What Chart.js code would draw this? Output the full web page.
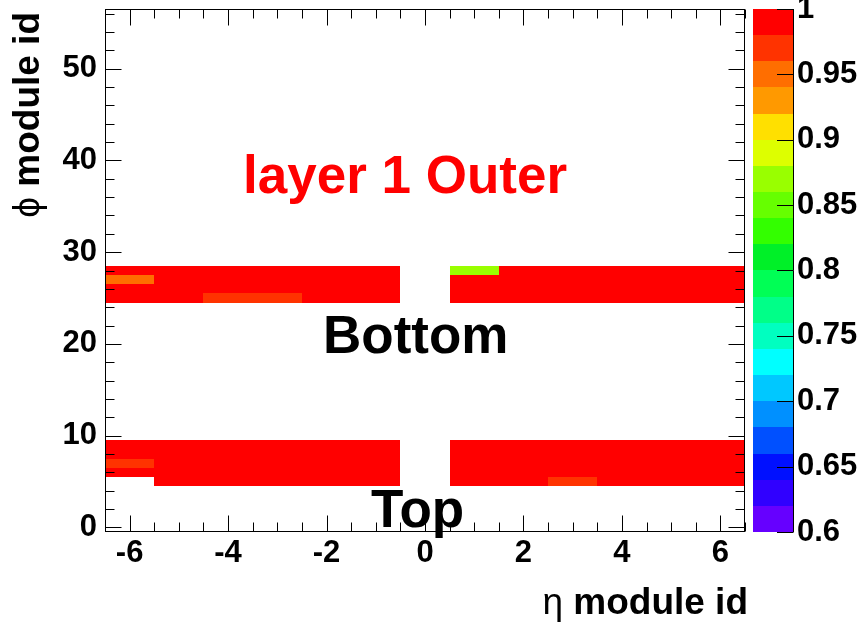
<!DOCTYPE html>
<html><head><meta charset="utf-8">
<script src="https://cdn.jsdelivr.net/npm/chart.js@4.4.1/dist/chart.umd.min.js"></script>
<style>html,body{margin:0;padding:0;background:#fff;}canvas{display:block;}</style>
</head><body>
<canvas id="c" width="863" height="631"></canvas>
<script>
// ---- data ----
const etaBins = [-6, -5, -4, -3, -2, -1, 1, 2, 3, 4, 5, 6];
const phiRows = [5, 6, 7, 8, 9, 25, 26, 27, 28];
const effPhi5  = [null, 1, 1, 1, 1, 1, 1, 1, 0.97, 1, 1, 1];
const effPhi6  = [1, 1, 1, 1, 1, 1, 1, 1, 1, 1, 1, 1];
const effPhi7  = [0.97, 1, 1, 1, 1, 1, 1, 1, 1, 1, 1, 1];
const effPhi8  = [1, 1, 1, 1, 1, 1, 1, 1, 1, 1, 1, 1];
const effPhi9  = [1, 1, 1, 1, 1, 1, 1, 1, 1, 1, 1, 1];
const effPhi25 = [1, 1, 0.97, 0.97, 1, 1, 1, 1, 1, 1, 1, 1];
const effPhi26 = [1, 1, 1, 1, 1, 1, 1, 1, 1, 1, 1, 1];
const effPhi27 = [0.955, 1, 1, 1, 1, 1, 1, 1, 1, 1, 1, 1];
const effPhi28 = [1, 1, 1, 1, 1, 1, 0.87, 1, 1, 1, 1, 1];
const effRows = [effPhi5, effPhi6, effPhi7, effPhi8, effPhi9, effPhi25, effPhi26, effPhi27, effPhi28];

const xTickValues = [-6, -4, -2, 0, 2, 4, 6];
const yTickValues = [0, 10, 20, 30, 40, 50];
const zTickValues = [0.6, 0.65, 0.7, 0.75, 0.8, 0.85, 0.9, 0.95, 1];
const zTickLabels = ['0.6', '0.65', '0.7', '0.75', '0.8', '0.85', '0.9', '0.95', '1'];
// palette: 20 contour bands from 0.60 to 1.00 (bottom to top)
const paletteColors = ['#6600ff', '#3000ff', '#0010ff', '#0050ff', '#0090ff', '#00c8ff', '#00ffff', '#00ffc0',
  '#00ff88', '#00ff55', '#00f028', '#33ff00', '#66ff00', '#99ff00', '#ddff00', '#ffe000',
  '#ff9900', '#ff6e00', '#ff3300', '#ff0000'];
const zMin = 0.6, zMax = 1.0;

const FONT = "'Liberation Sans', Arial, Helvetica, sans-serif";

function colorFor(v) {
  const n = paletteColors.length;
  let i = Math.floor((v - zMin) / (zMax - zMin) * n + 1e-9);
  if (i < 0) i = 0; if (i > n - 1) i = n - 1;
  return paletteColors[i];
}

const drawPlugin = {
  id: 'th2',
  afterDraw(chart) {
    const ctx = chart.ctx;
    const xs = chart.scales.x, ys = chart.scales.y, zs = chart.scales.z;
    const a = chart.chartArea;
    ctx.save();
    // cells
    phiRows.forEach((phi, r) => {
      effRows[r].forEach((v, i) => {
        if (v === null) return;
        const eta = etaBins[i];
        const x0 = Math.round(xs.getPixelForValue(eta - 0.5));
        const x1 = Math.round(xs.getPixelForValue(eta + 0.5));
        const y0 = Math.round(ys.getPixelForValue(phi + 0.5));
        const y1 = Math.round(ys.getPixelForValue(phi - 0.5));
        ctx.fillStyle = colorFor(v);
        ctx.fillRect(x0, y0, x1 - x0, y1 - y0);
      });
    });
    // frame
    ctx.strokeStyle = '#000';
    ctx.lineWidth = 1;
    const L = Math.round(a.left) + 0.5, R = Math.round(a.right) - 0.5;
    const T = Math.round(a.top) + 0.5, B = Math.round(a.bottom) - 0.5;
    ctx.strokeRect(L, T, R - L, B - T);
    ctx.beginPath();
    // x ticks
    for (let k = 0; k <= 26; k++) {
      const v = -6.5 + k * 0.5;
      const px = Math.round(xs.getPixelForValue(v)) + 0.5;
      const major = xTickValues.includes(v);
      const len = major ? 16 : 9;
      ctx.moveTo(px, B); ctx.lineTo(px, B - len);
      ctx.moveTo(px, T); ctx.lineTo(px, T + len);
    }
    // y ticks
    for (let v = 0; v <= 56; v += 2) {
      const py = Math.round(ys.getPixelForValue(v)) + 0.5;
      const major = yTickValues.includes(v);
      const len = major ? 16 : 9;
      ctx.moveTo(L, py); ctx.lineTo(L + len, py);
      ctx.moveTo(R, py); ctx.lineTo(R - len, py);
    }
    ctx.stroke();
    // colour bar
    const cbL = 753, cbR = 793;
    for (let i = 0; i < paletteColors.length; i++) {
      const v0 = zMin + i * (zMax - zMin) / paletteColors.length;
      const v1 = zMin + (i + 1) * (zMax - zMin) / paletteColors.length;
      const y0 = Math.round(zs.getPixelForValue(v1));
      const y1 = Math.round(zs.getPixelForValue(v0));
      ctx.fillStyle = paletteColors[i];
      ctx.fillRect(cbL, y0, cbR - cbL, y1 - y0);
    }
    ctx.beginPath();
    const zTop = Math.round(zs.getPixelForValue(zMax)), zBot = Math.round(zs.getPixelForValue(zMin));
    ctx.moveTo(cbR + 0.5, zTop); ctx.lineTo(cbR + 0.5, zBot);
    zTickValues.forEach(v => {
      const py = Math.round(zs.getPixelForValue(v)) + 0.5;
      ctx.moveTo(cbR + 0.5, py); ctx.lineTo(cbR - 16, py);
    });
    ctx.stroke();
    // texts
    ctx.textBaseline = 'alphabetic';
    ctx.textAlign = 'left';
    ctx.fillStyle = '#ff0000';
    ctx.font = 'bold 53px ' + FONT;
    ctx.fillText('layer 1 Outer', 243, 193);
    ctx.fillStyle = '#000';
    ctx.font = 'bold 53px ' + FONT;
    ctx.fillText('Bottom', 323, 353);
    ctx.fillText('Top', 371, 527);
    // x title
    ctx.textAlign = 'right';
    ctx.font = 'bold 37px ' + FONT;
    const wx = ctx.measureText(' module id').width;
    ctx.fillText(' module id', 748, 614);
    ctx.font = '37px ' + FONT;
    ctx.fillText('\u03B7', 748 - wx, 614);
    // y title
    ctx.translate(39, 12);
    ctx.rotate(-Math.PI / 2);
    ctx.font = 'bold 37px ' + FONT;
    const wy = ctx.measureText(' module id').width;
    ctx.fillText(' module id', 0, 0);
    ctx.font = '37px ' + FONT;
    ctx.fillText('\u03D5', -wy, 0);
    ctx.restore();
  }
};

const tickFont = { family: FONT, size: 31, weight: 'bold' };
const noPad = (s) => { s.paddingTop = 0; s.paddingBottom = 0; s.paddingLeft = 0; s.paddingRight = 0; };

new Chart(document.getElementById('c'), {
  type: 'scatter',
  data: { datasets: [] },
  options: {
    responsive: false,
    animation: false,
    layout: { padding: { top: 9, left: 0, right: 0, bottom: 0 } },
    plugins: { legend: { display: false }, tooltip: { enabled: false } },
    scales: {
      x: {
        type: 'linear', position: 'bottom', min: -6.5, max: 6.5,
        grid: { display: false, drawTicks: false }, border: { display: false },
        ticks: { font: tickFont, color: '#000', padding: 3, autoSkip: false, maxRotation: 0,
          callback: (v) => String(v) },
        afterBuildTicks: (s) => { s.ticks = xTickValues.map(v => ({ value: v })); },
        afterFit: (s) => { s.height = 99; noPad(s); }
      },
      y: {
        type: 'linear', position: 'left', min: -0.5, max: 56.5,
        grid: { display: false, drawTicks: false }, border: { display: false },
        ticks: { font: tickFont, color: '#000', padding: 8, autoSkip: false,
          callback: (v) => String(v) },
        afterBuildTicks: (s) => { s.ticks = yTickValues.map(v => ({ value: v })); },
        afterFit: (s) => { s.width = 105; noPad(s); }
      },
      z: {
        type: 'linear', position: 'right', axis: 'y', min: zMin, max: zMax,
        grid: { display: false, drawTicks: false }, border: { display: false },
        ticks: { font: tickFont, color: '#000', padding: 52, autoSkip: false,
          callback: (v, i) => zTickLabels[i] },
        afterBuildTicks: (s) => { s.ticks = zTickValues.map(v => ({ value: v })); },
        afterFit: (s) => { s.width = 118; noPad(s); }
      }
    }
  },
  plugins: [drawPlugin]
});
</script>
</body></html>
